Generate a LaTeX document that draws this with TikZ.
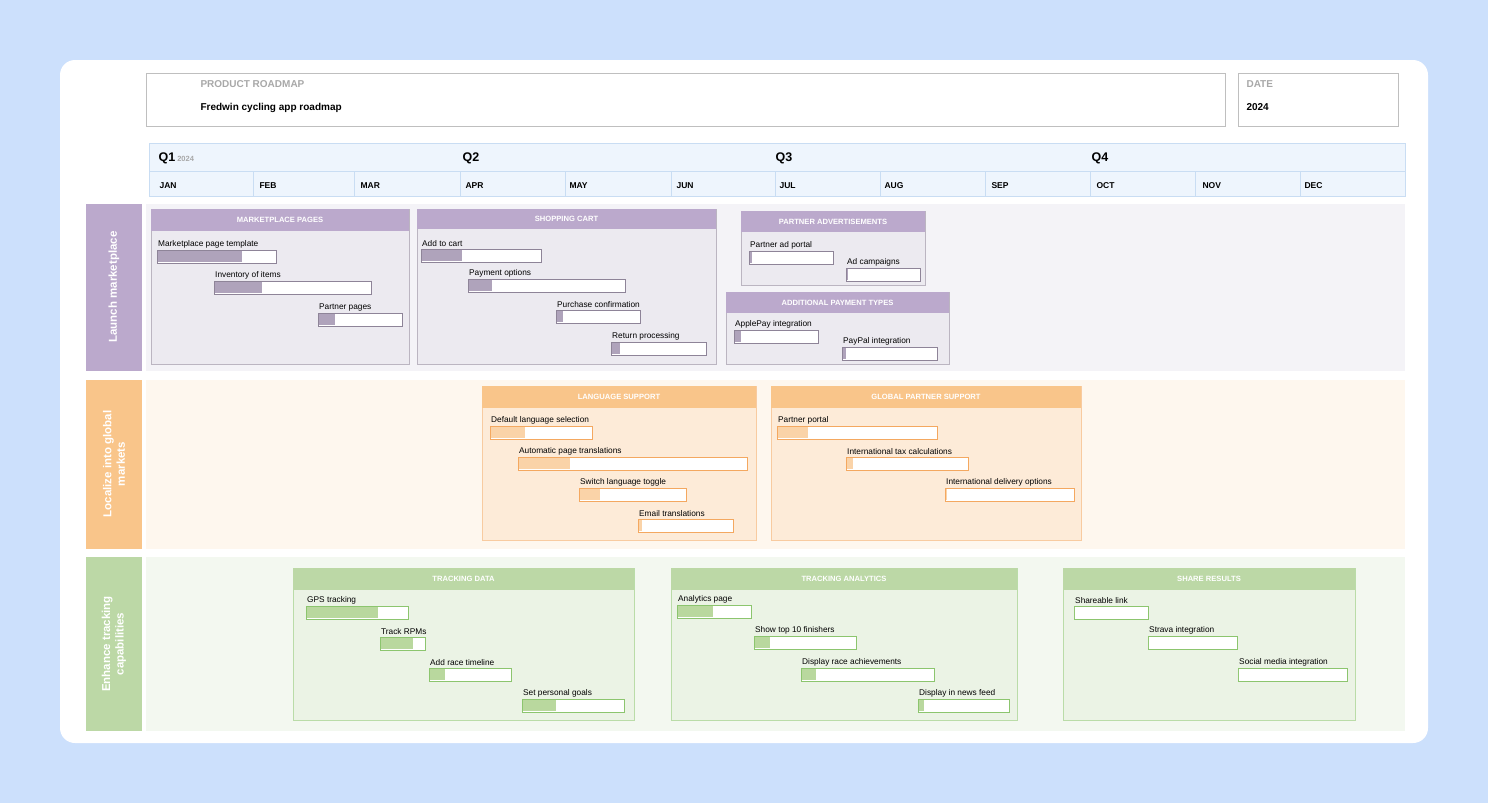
\documentclass[tikz,border=0pt]{standalone}
\usepackage{fontspec}
\setmainfont{Liberation Sans}
\usetikzlibrary{positioning}
\definecolor{pagebg}{HTML}{CCE0FC}
\definecolor{tlfill}{HTML}{EEF5FD}
\definecolor{tlline}{HTML}{C9DDF3}
\definecolor{graytxt}{HTML}{A8A8A8}
\definecolor{pHead}{HTML}{BBA9CC}
\definecolor{pBar}{HTML}{AFA3BB}
\definecolor{pLine}{HTML}{8E8498}
\definecolor{pBox}{HTML}{ECEAF0}
\definecolor{pLane}{HTML}{F4F3F7}
\definecolor{oHead}{HTML}{F9C58A}
\definecolor{oBar}{HTML}{FAD3A8}
\definecolor{oLine}{HTML}{F4A860}
\definecolor{oBox}{HTML}{FDEBD8}
\definecolor{oLane}{HTML}{FEF7EE}
\definecolor{gHead}{HTML}{BCD8A6}
\definecolor{gBar}{HTML}{B9D89E}
\definecolor{gLine}{HTML}{8CC56E}
\definecolor{gBox}{HTML}{EBF3E5}
\definecolor{gLane}{HTML}{F3F8F0}
\tikzset{
  hdrbox/.style={draw=black!25, fill=white},
  tasklbl/.style={anchor=south west, inner sep=0pt, font=\fontsize{8.3}{9}\selectfont},
  grptitle/.style={font=\bfseries\fontsize{7.6}{8}\selectfont, text=white},
  lanelbl/.style={rotate=90, align=center, text=white, font=\bfseries\fontsize{11.5}{13.5}\selectfont},
  month/.style={anchor=west, font=\bfseries\fontsize{8.5}{9}\selectfont},
  quarter/.style={anchor=west, font=\bfseries\fontsize{12.5}{14}\selectfont}
}
% group box: x1 y1 x2 y2 header-bottom title colour-prefix
\newcommand{\grp}[7]{%
  \draw[#7Line!60, fill=#7Box] (#1,#2) rectangle (#3,#4);
  \fill[#7Head] (#1,#2) rectangle (#3,#5);
  \node[grptitle] at ({(#1+#3)/2},{(#2+#5)/2}) {#6};}
% task bar: x1 y1 x2 fill-x label colour-prefix
\newcommand{\tbar}[6]{%
  \draw[#6Line, fill=white, line width=0.8pt] (#1,#2) rectangle (#3,#2+13);
  \fill[#6Bar] (#1+0.6,#2+0.6) rectangle (#4,#2+12.4);
  \node[tasklbl] at (#1+1,#2-2) {#5};}
\begin{document}
\begin{tikzpicture}[x=1pt, y=-1pt]
  \useasboundingbox (0,0) rectangle (1488,803);
  \fill[pagebg] (0,0) rectangle (1488,803);
  \fill[white, rounded corners=15pt] (60,60) rectangle (1428,743);

  % header
  \draw[hdrbox] (146,73) rectangle (1225,126);
  \node[anchor=west, text=graytxt, font=\bfseries\fontsize{10}{11}\selectfont] (ttl) at (197,84) {PRODUCT ROADMAP};
  \node[anchor=west, font=\bfseries\fontsize{10}{11}\selectfont] (name) at (197,108) {Fredwin cycling app roadmap};
  \draw[hdrbox] (1238,73) rectangle (1398,126);
  \node[anchor=west, text=graytxt, font=\bfseries\fontsize{10}{11}\selectfont] (dt) at (1243,84) {DATE};
  \node[anchor=west, font=\bfseries\fontsize{10}{11}\selectfont] (yr) at (1243,107) {2024};

  % timeline
  \draw[tlline, fill=tlfill] (149,143) rectangle (1405,196);
  \draw[tlline] (149,171) -- (1405,171);
  \foreach \x in {253,354,460,565,671,775,880,985,1090,1195,1300}
    \draw[tlline] (\x,172) -- (\x,196);
  \node[quarter] (q1) at (155,158) {Q1};
  \node[anchor=west, text=graytxt, font=\bfseries\fontsize{7.5}{8}\selectfont] at ([yshift=-1pt]q1.east) {\hspace{-5pt}2024};
  \node[quarter] (q2) at (459,158) {Q2};
  \node[quarter] (q3) at (772,158) {Q3};
  \node[quarter] (q4) at (1088,158) {Q4};
  \foreach \x/\m in {159/JAN,259/FEB,360/MAR,465/APR,569/MAY,676/JUN,779/JUL,884/AUG,991/SEP,1096/OCT,1202/NOV,1304/DEC}
    \node[month] at (\x-3,186) {\m};

  % lanes
  \fill[pLane] (146,204) rectangle (1405,371);
  \fill[pHead] (86,204) rectangle (142,371);
  \node[lanelbl] (lane1) at (114,287) {Launch marketplace};
  \fill[oLane] (146,380) rectangle (1405,549);
  \fill[oHead] (86,380) rectangle (142,549);
  \node[lanelbl] (lane2) at (114,464) {Localize into global\\markets};
  \fill[gLane] (146,557) rectangle (1405,731);
  \fill[gHead] (86,557) rectangle (142,731);
  \node[lanelbl] (lane3) at (114,644) {Enhance tracking\\capabilities};

  % launch marketplace
  \grp{151}{209}{409}{364}{231}{MARKETPLACE PAGES}{p}
  \tbar{157}{250}{276}{242}{Marketplace page template}{p}
  \tbar{214}{281}{371}{262}{Inventory of items}{p}
  \tbar{318}{313}{402}{335}{Partner pages}{p}
  \grp{417}{209}{716}{364}{229}{SHOPPING CART}{p}
  \tbar{421}{249}{541}{462}{Add to cart}{p}
  \tbar{468}{279}{625}{492}{Payment options}{p}
  \tbar{556}{310}{640}{563}{Purchase confirmation}{p}
  \tbar{611}{342}{706}{620}{Return processing}{p}
  \grp{741}{211}{925}{285}{232}{PARTNER ADVERTISEMENTS}{p}
  \tbar{749}{251}{833}{752}{Partner ad portal}{p}
  \tbar{846}{268}{920}{848}{Ad campaigns}{p}
  \grp{726}{292}{949}{364}{313}{ADDITIONAL PAYMENT TYPES}{p}
  \tbar{734}{330}{818}{741}{ApplePay integration}{p}
  \tbar{842}{347}{937}{846}{PayPal integration}{p}

  % localize
  \grp{482}{386}{756}{540}{408}{LANGUAGE SUPPORT}{o}
  \tbar{490}{426}{592}{525}{Default language selection}{o}
  \tbar{518}{457}{747}{570}{Automatic page translations}{o}
  \tbar{579}{488}{686}{600}{Switch language toggle}{o}
  \tbar{638}{519}{733}{642}{Email translations}{o}
  \grp{771}{386}{1081}{540}{408}{GLOBAL PARTNER SUPPORT}{o}
  \tbar{777}{426}{937}{808}{Partner portal}{o}
  \tbar{846}{457}{968}{853}{International tax calculations}{o}
  \tbar{945}{488}{1074}{947}{International delivery options}{o}

  % tracking
  \grp{293}{568}{634}{720}{590}{TRACKING DATA}{g}
  \tbar{306}{606}{408}{378}{GPS tracking}{g}
  \tbar{380}{637}{425}{413}{Track RPMs}{g}
  \tbar{429}{668}{511}{445}{Add race timeline}{g}
  \tbar{522}{699}{624}{556}{Set personal goals}{g}
  \grp{671}{568}{1017}{720}{590}{TRACKING ANALYTICS}{g}
  \tbar{677}{605}{751}{713}{Analytics page}{g}
  \tbar{754}{636}{856}{770}{Show top 10 finishers}{g}
  \tbar{801}{668}{934}{816}{Display race achievements}{g}
  \tbar{918}{699}{1009}{924}{Display in news feed}{g}
  \grp{1063}{568}{1355}{720}{590}{SHARE RESULTS}{g}
  \tbar{1074}{606}{1148}{1074.6}{Shareable link}{g}
  \tbar{1148}{636}{1237}{1148.6}{Strava integration}{g}
  \tbar{1238}{668}{1347}{1238.6}{Social media integration}{g}
\end{tikzpicture}
\end{document}
